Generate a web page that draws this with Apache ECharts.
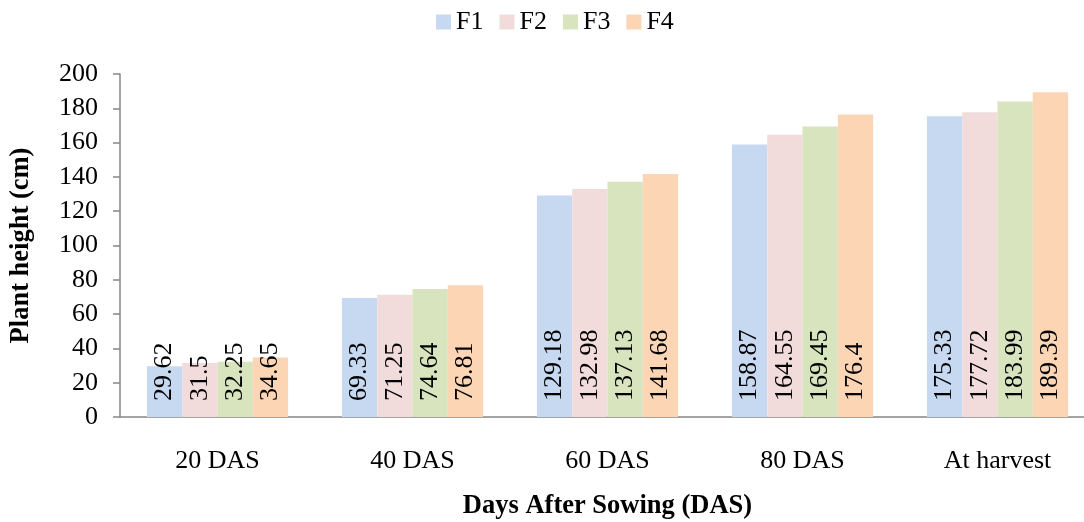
<!DOCTYPE html>
<html>
<head>
<meta charset="utf-8">
<script src="https://cdn.jsdelivr.net/npm/echarts@6/dist/echarts.min.js"></script>
<style>
html,body{margin:0;padding:0;background:#fff;}
#chart{width:1084px;height:522px;}
</style>
</head>
<body>
<div id="chart"></div>
<script>
const categories = ['20 DAS', '40 DAS', '60 DAS', '80 DAS', 'At harvest'];
const seriesNames = ['F1', 'F2', 'F3', 'F4'];
const f1 = [29.62, 69.33, 129.18, 158.87, 175.33];
const f2 = [31.5, 71.25, 132.98, 164.55, 177.72];
const f3 = [32.25, 74.64, 137.13, 169.45, 183.99];
const f4 = [34.65, 76.81, 141.68, 176.4, 189.39];
const yTicks = { min: 0, max: 200, interval: 20 };
const colors = ['#C6D9F1', '#F2DCDB', '#D7E4BD', '#FCD5B5'];

const font = '"Liberation Serif", "Times New Roman", serif';
const values = [f1, f2, f3, f4];

const chart = echarts.init(document.getElementById('chart'));
chart.setOption({
  animation: false,
  backgroundColor: '#fff',
  color: colors,
  legend: {
    top: 4,
    left: 431,
    itemWidth: 15,
    itemHeight: 15,
    itemGap: 16,
    icon: 'rect',
    textStyle: { fontFamily: font, fontSize: 26, color: '#000' },
    data: seriesNames
  },
  grid: { left: 120, right: -11, top: 74, bottom: 105, containLabel: false, outerBoundsMode: 'none' },
  xAxis: {
    type: 'category',
    data: categories,
    axisLine: { lineStyle: { color: '#868686', width: 1.5 } },
    axisTick: { show: false },
    axisLabel: { fontFamily: font, fontSize: 26, color: '#000', margin: 31 },
    name: 'Days After Sowing (DAS)',
    nameLocation: 'middle',
    nameGap: 76,
    nameTextStyle: { fontFamily: font, fontSize: 26.5, fontWeight: 'bold', color: '#000' }
  },
  yAxis: {
    type: 'value',
    min: yTicks.min,
    max: yTicks.max,
    interval: yTicks.interval,
    splitLine: { show: false },
    axisLine: { show: true, lineStyle: { color: '#868686', width: 1.5 } },
    axisTick: { show: true, length: 7, lineStyle: { color: '#868686', width: 1.5 } },
    axisLabel: { fontFamily: font, fontSize: 26, color: '#000', margin: 22 },
    name: 'Plant height (cm)',
    nameLocation: 'middle',
    nameGap: 85,
    nameTextStyle: { fontFamily: font, fontSize: 26.5, fontWeight: 'bold', color: '#000' }
  },
  series: seriesNames.map((n, i) => ({
    name: n,
    type: 'bar',
    data: values[i],
    barGap: '0%',
    barCategoryGap: '27.6%',
    itemStyle: { color: colors[i] },
    label: {
      show: true,
      position: 'insideBottom',
      rotate: 90,
      align: 'left',
      verticalAlign: 'middle',
      distance: 16,
      fontFamily: font,
      fontSize: 26,
      color: '#000'
    }
  }))
});
</script>
</body>
</html>
